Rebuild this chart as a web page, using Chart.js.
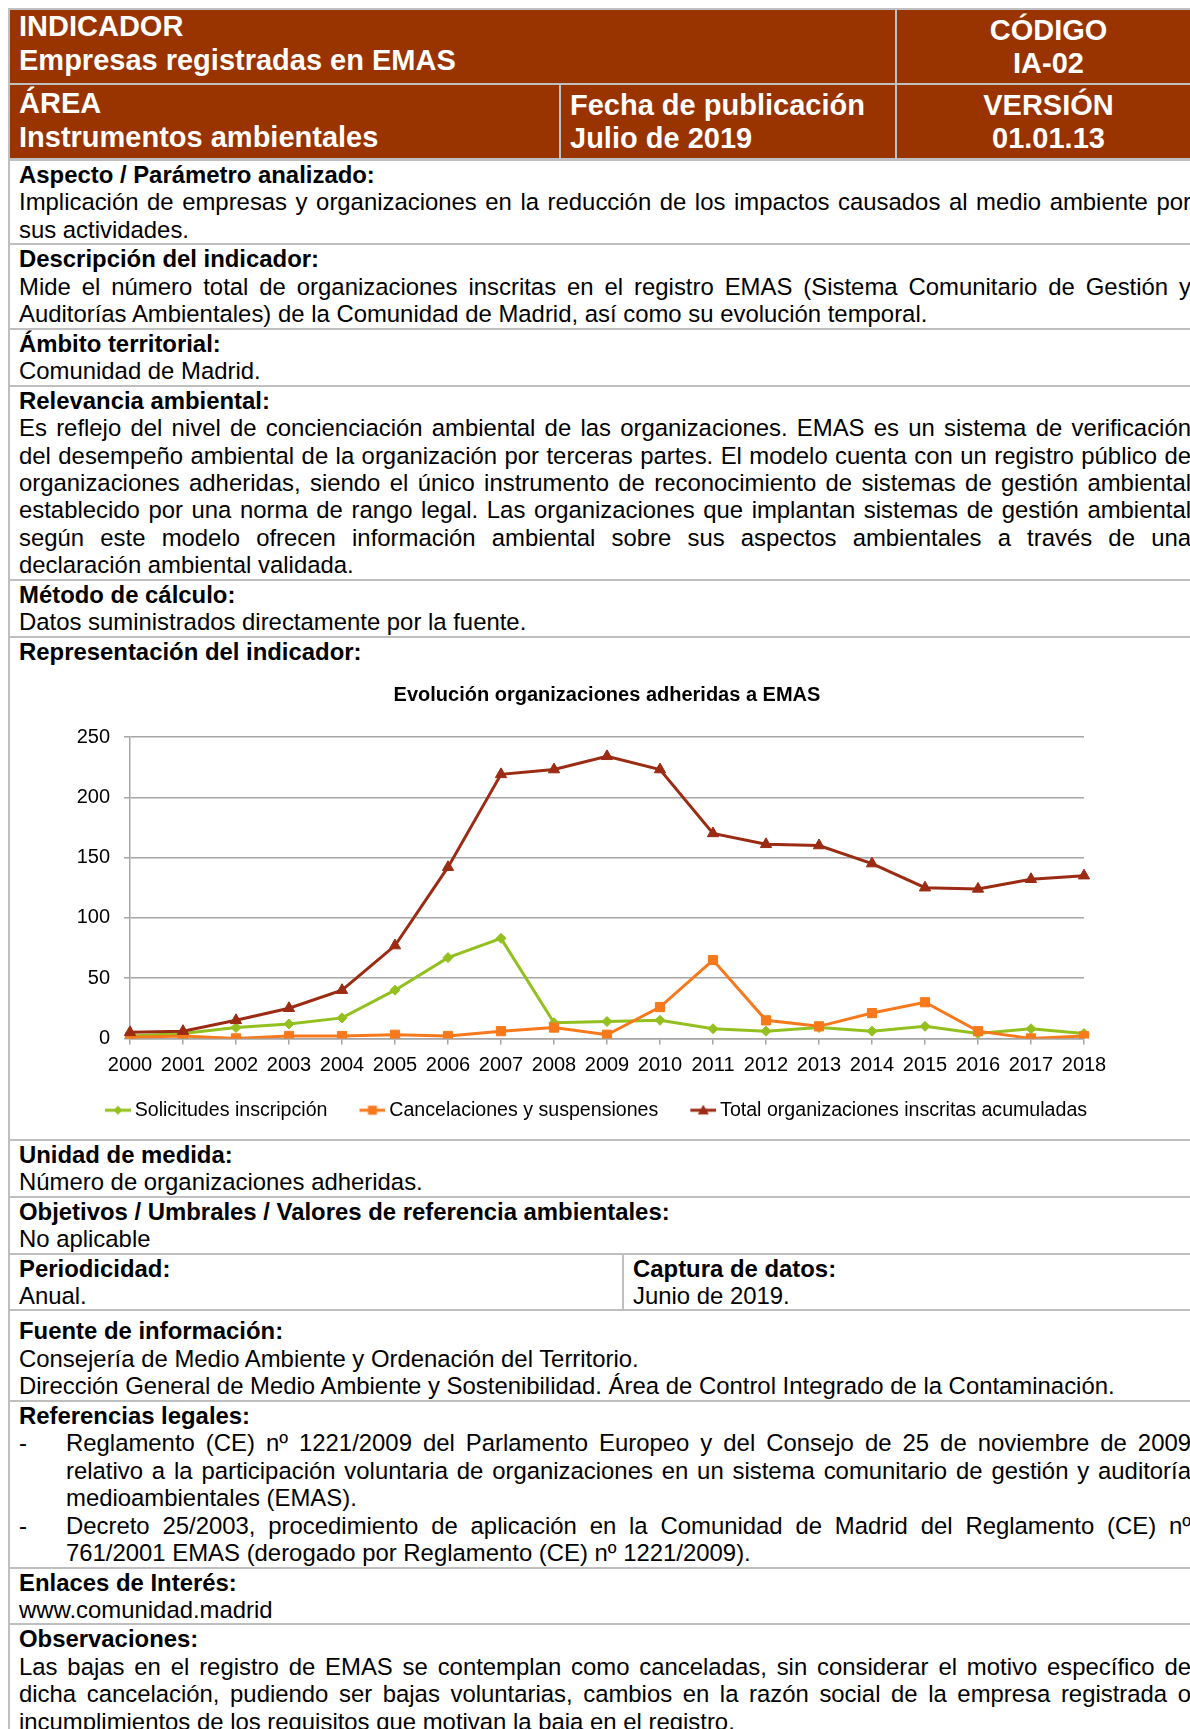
<!DOCTYPE html>
<html lang="es">
<head>
<meta charset="utf-8">
<title>IA-02 Empresas registradas en EMAS</title>
<script src="https://cdn.jsdelivr.net/npm/chart.js@4.4.1/dist/chart.umd.min.js"></script>
<style>
    html, body { margin: 0; padding: 0; background: #fff; }
    body {
        width: 1190px; height: 1729px; overflow: hidden; position: relative;
        font-family: "Liberation Sans", Arial, sans-serif; color: #000;
    }

    /* header */
    #head { position: absolute; left: 8px; top: 8px; width: 1192px; height: 152px; background: #c0c0c0; }
    .cell {
        position: absolute; background: #993300; color: #fff;
        font-weight: bold; font-size: 29px; box-sizing: border-box;
    }
    .cell.l { padding-left: 9px; }
    .cell.c { text-align: center; }

    /* body rows */
    #rows { position: absolute; left: 8px; top: 159px; width: 1192px; font-size: 23.9px; line-height: 27.45px; }
    .row { border-top: 2px solid #bfbfbf; border-left: 2px solid #bfbfbf; padding: 0 9px; }
    .h { font-weight: bold; }
    .j { text-align: justify; text-align-last: justify; }
    .split { display: flex; padding: 0; }
    .split .c1 { width: 612px; padding-left: 9px; box-sizing: border-box; }
    .split .c2 { flex: 1; border-left: 2px solid #bfbfbf; padding-left: 9px; }
    .li { position: relative; padding-left: 47px; }
    .li .dash { position: absolute; left: 0; top: 0; }

    #chartBox { position: absolute; left: 20px; top: 660px; width: 1110px; height: 470px; }
</style>
</head>
<body>

<div id="head">
    <div class="cell l" style="left:2px;top:2px;width:885px;height:73px;line-height:34px;">
        <div style="margin-top:-1px">INDICADOR</div><div>Empresas registradas en EMAS</div>
    </div>
    <div class="cell c" style="left:889px;top:2px;width:303px;height:73px;line-height:33px;padding-top:4px;">
        <div>CÓDIGO</div><div>IA-02</div>
    </div>
    <div class="cell l" style="left:2px;top:77px;width:549px;height:73px;line-height:34px;padding-top:1px;">
        <div>ÁREA</div><div>Instrumentos ambientales</div>
    </div>
    <div class="cell l" style="left:553px;top:77px;width:334px;height:73px;line-height:33px;padding-top:4px;">
        <div>Fecha de publicación</div><div>Julio de 2019</div>
    </div>
    <div class="cell c" style="left:889px;top:77px;width:303px;height:73px;line-height:33px;padding-top:4px;">
        <div>VERSIÓN</div><div>01.01.13</div>
    </div>
</div>

<div id="rows">
    <div class="row">
        <div class="h">Aspecto / Parámetro analizado:</div>
        <div class="j">Implicación de empresas y organizaciones en la reducción de los impactos causados al medio ambiente por</div>
        <div>sus actividades.</div>
    </div>
    <div class="row">
        <div class="h">Descripción del indicador:</div>
        <div class="j">Mide el número total de organizaciones inscritas en el registro EMAS (Sistema Comunitario de Gestión y</div>
        <div>Auditorías Ambientales) de la Comunidad de Madrid, así como su evolución temporal.</div>
    </div>
    <div class="row">
        <div class="h">Ámbito territorial:</div>
        <div>Comunidad de Madrid.</div>
    </div>
    <div class="row">
        <div class="h">Relevancia ambiental:</div>
        <div class="j">Es reflejo del nivel de concienciación ambiental de las organizaciones. EMAS es un sistema de verificación</div>
        <div class="j">del desempeño ambiental de la organización por terceras partes. El modelo cuenta con un registro público de</div>
        <div class="j">organizaciones adheridas, siendo el único instrumento de reconocimiento de sistemas de gestión ambiental</div>
        <div class="j">establecido por una norma de rango legal. Las organizaciones que implantan sistemas de gestión ambiental</div>
        <div class="j">según este modelo ofrecen información ambiental sobre sus aspectos ambientales a través de una</div>
        <div>declaración ambiental validada.</div>
    </div>
    <div class="row">
        <div class="h">Método de cálculo:</div>
        <div>Datos suministrados directamente por la fuente.</div>
    </div>
    <div class="row" style="height:501px">
        <div class="h">Representación del indicador:</div>
    </div>
    <div class="row">
        <div class="h">Unidad de medida:</div>
        <div>Número de organizaciones adheridas.</div>
    </div>
    <div class="row">
        <div class="h">Objetivos / Umbrales / Valores de referencia ambientales:</div>
        <div>No aplicable</div>
    </div>
    <div class="row split">
        <div class="c1"><div class="h">Periodicidad:</div><div>Anual.</div></div>
        <div class="c2"><div class="h">Captura de datos:</div><div>Junio de 2019.</div></div>
    </div>
    <div class="row" style="padding-top:6px">
        <div class="h">Fuente de información:</div>
        <div>Consejería de Medio Ambiente y Ordenación del Territorio.</div>
        <div>Dirección General de Medio Ambiente y Sostenibilidad. Área de Control Integrado de la Contaminación.</div>
    </div>
    <div class="row">
        <div class="h">Referencias legales:</div>
        <div class="li"><span class="dash">-</span>
            <div class="j">Reglamento (CE) nº 1221/2009 del Parlamento Europeo y del Consejo de 25 de noviembre de 2009</div>
            <div class="j">relativo a la participación voluntaria de organizaciones en un sistema comunitario de gestión y auditoría</div>
            <div>medioambientales (EMAS).</div>
        </div>
        <div class="li"><span class="dash">-</span>
            <div class="j">Decreto 25/2003, procedimiento de aplicación en la Comunidad de Madrid del Reglamento (CE) nº</div>
            <div>761/2001 EMAS (derogado por Reglamento (CE) nº 1221/2009).</div>
        </div>
    </div>
    <div class="row">
        <div class="h">Enlaces de Interés:</div>
        <div>www.comunidad.madrid</div>
    </div>
    <div class="row">
        <div class="h">Observaciones:</div>
        <div class="j">Las bajas en el registro de EMAS se contemplan como canceladas, sin considerar el motivo específico de</div>
        <div class="j">dicha cancelación, pudiendo ser bajas voluntarias, cambios en la razón social de la empresa registrada o</div>
        <div>incumplimientos de los requisitos que motivan la baja en el registro.</div>
    </div>
</div>

<div id="chartBox"><canvas id="emasChart" width="1110" height="470"></canvas></div>

<script>
// DATA
const years = ['2000', '2001', '2002', '2003', '2004', '2005', '2006', '2007', '2008', '2009',
               '2010', '2011', '2012', '2013', '2014', '2015', '2016', '2017', '2018'];
const solicitudes = [2, 4, 9, 12, 17, 40, 67, 83, 13, 14, 15, 8, 6, 9, 6, 10, 4, 8, 4];
const cancelaciones = [1, 2, 0, 2, 2, 3, 2, 6, 9, 3, 26, 65, 15, 10, 21, 30, 6, 0, 2];
const totalInscritas = [5, 6, 15, 25, 40, 77, 142, 219, 223, 234, 223, 170, 161, 160, 145, 125, 124, 132, 135];
const yTicks = [0, 50, 100, 150, 200, 250];
const seriesNames = ['Solicitudes inscripción', 'Cancelaciones y suspensiones', 'Total organizaciones inscritas acumuladas'];
const chartTitle = 'Evolución organizaciones adheridas a EMAS';

// LEGEND ICONS (line with marker, drawn in the right part of a wider canvas)
function legendIcon(color, shape, r) {
    const c = document.createElement('canvas');
    c.width = 42; c.height = 16;
    const g = c.getContext('2d');
    const x0 = 16, cx = 29, cy = 8;
    g.strokeStyle = color; g.fillStyle = color; g.lineWidth = 3;
    g.beginPath(); g.moveTo(x0, cy); g.lineTo(42, cy); g.stroke();
    g.beginPath();
    if (shape === 'diamond') {
        g.moveTo(cx, cy - r); g.lineTo(cx + r, cy); g.lineTo(cx, cy + r); g.lineTo(cx - r, cy);
    } else if (shape === 'square') {
        g.rect(cx - r, cy - r, 2 * r, 2 * r);
    } else {
        g.moveTo(cx, cy - r); g.lineTo(cx + r, cy + r * 0.75); g.lineTo(cx - r, cy + r * 0.75);
    }
    g.closePath(); g.fill();
    return c;
}

// LOAD CHART
window.onload = function () {
    Chart.defaults.font.family = '"Liberation Sans", Arial, sans-serif';
    Chart.defaults.color = '#000';

    const icons = [
        legendIcon('#93c01f', 'diamond', 4.5),
        legendIcon('#f7791c', 'square', 4.5),
        legendIcon('#9b2b13', 'triangle', 5.5)
    ];

    new Chart(document.getElementById('emasChart'), {
        type: 'line',
        data: {
            labels: years,
            datasets: [{
                label: seriesNames[0],
                data: solicitudes,
                borderColor: '#93c01f',
                backgroundColor: '#93c01f',
                pointStyle: 'rectRot',
                pointRadius: 5,
                order: 3
            }, {
                label: seriesNames[1],
                data: cancelaciones,
                borderColor: '#f7791c',
                backgroundColor: '#f7791c',
                pointStyle: 'rect',
                pointRadius: 6.5,
                order: 2
            }, {
                label: seriesNames[2],
                data: totalInscritas,
                borderColor: '#9b2b13',
                backgroundColor: '#9b2b13',
                pointStyle: 'triangle',
                pointRadius: 6.5,
                order: 1
            }]
        },
        options: {
            responsive: false,
            animation: false,
            devicePixelRatio: 1,
            elements: {
                line: { borderWidth: 3, tension: 0 },
                point: { borderWidth: 1 }
            },
            layout: { padding: { left: 45, right: 13, top: 0, bottom: 0 } },
            plugins: {
                title: {
                    display: true,
                    fullSize: false,
                    text: chartTitle,
                    color: '#000',
                    font: { size: 20, weight: 'bold', lineHeight: 1.2 },
                    padding: { top: 23, bottom: 30 }
                },
                legend: {
                    position: 'bottom',
                    labels: {
                        usePointStyle: true,
                        pointStyleWidth: 30,
                        padding: 22,
                        color: '#000',
                        font: { size: 19.6 },
                        sort: (a, b) => a.datasetIndex - b.datasetIndex,
                        generateLabels: function (chart) {
                            return Chart.defaults.plugins.legend.labels.generateLabels(chart).map(function (item) {
                                item.pointStyle = icons[item.datasetIndex];
                                item.rotation = 0;
                                return item;
                            });
                        }
                    }
                },
                tooltip: { enabled: false }
            },
            scales: {
                x: {
                    offset: false,
                    grid: { drawOnChartArea: false, drawTicks: true, tickLength: 6, color: '#a6a6a6', lineWidth: 1.5 },
                    border: { display: true, color: '#a6a6a6', width: 1.5 },
                    ticks: { font: { size: 20 }, padding: 9, maxRotation: 0, autoSkip: false, color: '#000' },
                    afterFit: function (s) { s.height = 40; }
                },
                y: {
                    min: 0,
                    max: 250,
                    grid: { color: '#a6a6a6', lineWidth: 1.5, tickLength: 6 },
                    border: { display: true, color: '#a6a6a6', width: 1.5 },
                    ticks: { font: { size: 20 }, padding: 14, color: '#000' },
                    afterBuildTicks: function (s) { s.ticks = yTicks.map(v => ({ value: v })); },
                    afterFit: function (s) { s.width = 65; }
                },
                // empty spacer on the right so the legend row is wider than the plot
                spacer: {
                    type: 'linear',
                    position: 'right',
                    grid: { display: false },
                    border: { display: false },
                    ticks: { display: false },
                    afterFit: function (s) { s.width = 33; }
                }
            }
        }
    });
};
</script>
</body>
</html>
